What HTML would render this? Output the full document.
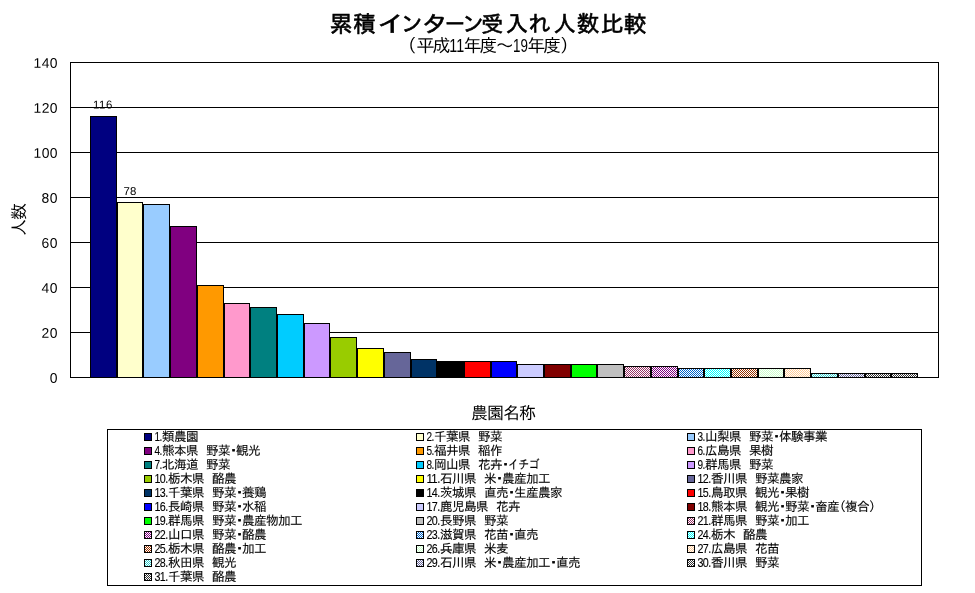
<!DOCTYPE html>
<html lang="ja"><head><meta charset="utf-8"><title>累積インターン受入れ人数比較</title>
<style>html,body{margin:0;padding:0;background:#fff;}body{width:975px;height:593px;overflow:hidden;}svg{display:block;}text{font-family:"Liberation Sans", "IPAGothic", sans-serif;fill:#000;}</style></head><body>
<svg width="975" height="593" viewBox="0 0 975 593">
<defs>
<pattern id="p0" width="2" height="2" patternUnits="userSpaceOnUse"><rect width="2" height="2" fill="#fff"/><rect x="0" y="0" width="1" height="1" fill="#993366"/><rect x="1" y="1" width="1" height="1" fill="#993366"/></pattern>
<pattern id="p1" width="2" height="2" patternUnits="userSpaceOnUse"><rect width="2" height="2" fill="#fff"/><rect x="0" y="0" width="1" height="1" fill="#800080"/><rect x="1" y="1" width="1" height="1" fill="#800080"/></pattern>
<pattern id="p2" width="2" height="2" patternUnits="userSpaceOnUse"><rect width="2" height="2" fill="#fff"/><rect x="0" y="0" width="1" height="1" fill="#0066CC"/><rect x="1" y="1" width="1" height="1" fill="#0066CC"/></pattern>
<pattern id="p3" width="2" height="2" patternUnits="userSpaceOnUse"><rect width="2" height="2" fill="#fff"/><rect x="0" y="0" width="1" height="1" fill="#00FFFF"/><rect x="1" y="1" width="1" height="1" fill="#00FFFF"/></pattern>
<pattern id="p4" width="2" height="2" patternUnits="userSpaceOnUse"><rect width="2" height="2" fill="#fff"/><rect x="0" y="0" width="1" height="1" fill="#993300"/><rect x="1" y="1" width="1" height="1" fill="#993300"/></pattern>
<pattern id="p5" width="2" height="2" patternUnits="userSpaceOnUse"><rect width="2" height="2" fill="#fff"/><rect x="0" y="0" width="1" height="1" fill="#CCFFCC"/><rect x="1" y="1" width="1" height="1" fill="#CCFFCC"/></pattern>
<pattern id="p6" width="2" height="2" patternUnits="userSpaceOnUse"><rect width="2" height="2" fill="#fff"/><rect x="0" y="0" width="1" height="1" fill="#FFCC99"/><rect x="1" y="1" width="1" height="1" fill="#FFCC99"/></pattern>
<pattern id="p7" width="2" height="2" patternUnits="userSpaceOnUse"><rect width="2" height="2" fill="#fff"/><rect x="0" y="0" width="1" height="1" fill="#33CCCC"/><rect x="1" y="1" width="1" height="1" fill="#33CCCC"/></pattern>
<pattern id="p8" width="2" height="2" patternUnits="userSpaceOnUse"><rect width="2" height="2" fill="#fff"/><rect x="0" y="0" width="1" height="1" fill="#666699"/><rect x="1" y="1" width="1" height="1" fill="#666699"/></pattern>
<pattern id="p9" width="2" height="2" patternUnits="userSpaceOnUse"><rect width="2" height="2" fill="#fff"/><rect x="0" y="0" width="1" height="1" fill="#333333"/><rect x="1" y="1" width="1" height="1" fill="#333333"/></pattern>
<pattern id="p10" width="2" height="2" patternUnits="userSpaceOnUse"><rect width="2" height="2" fill="#fff"/><rect x="0" y="0" width="1" height="1" fill="#333333"/><rect x="1" y="1" width="1" height="1" fill="#333333"/></pattern>
</defs>
<rect width="975" height="593" fill="#fff"/>
<text y="32.3" font-size="22.67" stroke="#000" stroke-width="0.6" text-anchor="middle"><tspan x="341.2">累</tspan><tspan x="364.7">積</tspan><tspan x="391.5" textLength="29.9" lengthAdjust="spacingAndGlyphs">イ</tspan><tspan x="411.8">ン</tspan><tspan x="435.0" textLength="28.3" lengthAdjust="spacingAndGlyphs">タ</tspan><tspan x="455.0" textLength="19.9" lengthAdjust="spacingAndGlyphs">ー</tspan><tspan x="473.2">ン</tspan><tspan x="492.2">受</tspan><tspan x="516.6">入</tspan><tspan x="539.7">れ</tspan><tspan x="564.5">人</tspan><tspan x="588.1">数</tspan><tspan x="612.0">比</tspan><tspan x="635.2">較</tspan></text>
<text x="398.6" y="52.0" font-size="18.0">（</text>
<text y="52.0" font-size="18.00" text-anchor="middle" x="425.4 441.6">平成</text>
<text x="449.3" y="52.0" font-size="17.6" textLength="14.9" lengthAdjust="spacingAndGlyphs">11</text>
<text y="52.0" font-size="18.00" text-anchor="middle" x="472.5 488.6 504.8">年度～</text>
<text x="513.0" y="52.0" font-size="17.6" textLength="14.9" lengthAdjust="spacingAndGlyphs">19</text>
<text y="52.0" font-size="18.00" text-anchor="middle" x="536.2 552.3">年度</text>
<text x="560.0" y="52.0" font-size="18.0">）</text>
<g shape-rendering="crispEdges" stroke="#000" stroke-width="1" fill="none">
<line x1="70" y1="62.5" x2="939" y2="62.5"/>
<line x1="70" y1="107.5" x2="939" y2="107.5"/>
<line x1="70" y1="152.5" x2="939" y2="152.5"/>
<line x1="70" y1="197.5" x2="939" y2="197.5"/>
<line x1="70" y1="242.5" x2="939" y2="242.5"/>
<line x1="70" y1="287.5" x2="939" y2="287.5"/>
<line x1="70" y1="332.5" x2="939" y2="332.5"/>
<line x1="70" y1="377.5" x2="939" y2="377.5"/>
<line x1="70.5" y1="62" x2="70.5" y2="378"/>
<line x1="938.5" y1="62" x2="938.5" y2="378"/>
</g>
<text x="57.6" y="67.80" transform="rotate(0.03 57.6 67.80)" font-size="13.9" text-anchor="end" textLength="24.0" lengthAdjust="spacing">140</text>
<text x="57.6" y="112.80" transform="rotate(0.03 57.6 112.80)" font-size="13.9" text-anchor="end" textLength="24.0" lengthAdjust="spacing">120</text>
<text x="57.6" y="157.80" transform="rotate(0.03 57.6 157.80)" font-size="13.9" text-anchor="end" textLength="24.0" lengthAdjust="spacing">100</text>
<text x="57.6" y="202.80" transform="rotate(0.03 57.6 202.80)" font-size="13.9" text-anchor="end" textLength="16.0" lengthAdjust="spacing">80</text>
<text x="57.6" y="247.80" transform="rotate(0.03 57.6 247.80)" font-size="13.9" text-anchor="end" textLength="16.0" lengthAdjust="spacing">60</text>
<text x="57.6" y="292.80" transform="rotate(0.03 57.6 292.80)" font-size="13.9" text-anchor="end" textLength="16.0" lengthAdjust="spacing">40</text>
<text x="57.6" y="337.80" transform="rotate(0.03 57.6 337.80)" font-size="13.9" text-anchor="end" textLength="16.0" lengthAdjust="spacing">20</text>
<text x="57.6" y="382.80" transform="rotate(0.03 57.6 382.80)" font-size="13.9" text-anchor="end" textLength="8.0" lengthAdjust="spacing">0</text>
<g shape-rendering="crispEdges" stroke="#000" stroke-width="1">
<rect x="90.5" y="116.5" width="26" height="261" fill="#000080"/>
<rect x="117.5" y="202.5" width="25" height="175" fill="#FFFFCC"/>
<rect x="143.5" y="204.5" width="26" height="173" fill="#99CCFF"/>
<rect x="170.5" y="226.5" width="26" height="151" fill="#800080"/>
<rect x="197.5" y="285.5" width="26" height="92" fill="#FF9900"/>
<rect x="224.5" y="303.5" width="25" height="74" fill="#FF99CC"/>
<rect x="250.5" y="307.5" width="26" height="70" fill="#008080"/>
<rect x="277.5" y="314.5" width="26" height="63" fill="#00CCFF"/>
<rect x="304.5" y="323.5" width="25" height="54" fill="#CC99FF"/>
<rect x="330.5" y="337.5" width="26" height="40" fill="#99CC00"/>
<rect x="357.5" y="348.5" width="26" height="29" fill="#FFFF00"/>
<rect x="384.5" y="352.5" width="26" height="25" fill="#666699"/>
<rect x="411.5" y="359.5" width="25" height="18" fill="#003366"/>
<rect x="437.5" y="361.5" width="26" height="16" fill="#000000"/>
<rect x="464.5" y="361.5" width="26" height="16" fill="#FF0000"/>
<rect x="491.5" y="361.5" width="25" height="16" fill="#0000FF"/>
<rect x="517.5" y="364.5" width="26" height="13" fill="#CCCCFF"/>
<rect x="544.5" y="364.5" width="26" height="13" fill="#800000"/>
<rect x="571.5" y="364.5" width="25" height="13" fill="#00FF00"/>
<rect x="597.5" y="364.5" width="26" height="13" fill="#C0C0C0"/>
<rect x="624.5" y="366.5" width="26" height="11" fill="url(#p0)"/>
<rect x="651.5" y="366.5" width="26" height="11" fill="url(#p1)"/>
<rect x="678.5" y="368.5" width="25" height="9" fill="url(#p2)"/>
<rect x="704.5" y="368.5" width="26" height="9" fill="url(#p3)"/>
<rect x="731.5" y="368.5" width="26" height="9" fill="url(#p4)"/>
<rect x="758.5" y="368.5" width="25" height="9" fill="url(#p5)"/>
<rect x="784.5" y="368.5" width="26" height="9" fill="url(#p6)"/>
<rect x="811.5" y="373.5" width="26" height="4" fill="url(#p7)"/>
<rect x="838.5" y="373.5" width="26" height="4" fill="url(#p8)"/>
<rect x="865.5" y="373.5" width="25" height="4" fill="url(#p9)"/>
<rect x="891.5" y="373.5" width="26" height="4" fill="url(#p10)"/>
</g>
<text x="102.6" y="108.4" transform="rotate(0.03 102.6 108.4)" font-size="11.4" text-anchor="middle" textLength="19.4" lengthAdjust="spacing">116</text>
<text x="129.9" y="195.1" transform="rotate(0.03 129.9 195.1)" font-size="11.4" text-anchor="middle" textLength="12.7" lengthAdjust="spacing">78</text>
<text y="419.4" font-size="17.00" text-anchor="middle" x="479.5 495.5 511.5 527.5">農園名称</text>
<text transform="translate(25.2,219.5) rotate(-90)" font-size="17" text-anchor="middle" x="-8 8" y="0">人数</text>
<rect x="107.5" y="429.5" width="814" height="156" fill="#fff" stroke="#000" stroke-width="1" shape-rendering="crispEdges"/>
<g font-size="12.6" letter-spacing="-0.6" stroke="#000" stroke-width="0.12">
<rect x="144.5" y="433.5" width="7" height="7" fill="#000080" stroke="#000" stroke-width="1" shape-rendering="crispEdges"/>
<text x="154.4" y="441.1" font-size="12.6" textLength="7.4" lengthAdjust="spacingAndGlyphs">1.</text>
<text x="162.0" y="441.2">類農園</text>
<rect x="416.5" y="433.5" width="7" height="7" fill="#FFFFCC" stroke="#000" stroke-width="1" shape-rendering="crispEdges"/>
<text x="426.4" y="441.1" font-size="12.6" textLength="7.4" lengthAdjust="spacingAndGlyphs">2.</text>
<text x="434.0" y="441.2">千葉県</text>
<text x="470.0" y="441.2" textLength="8" lengthAdjust="spacingAndGlyphs">　</text>
<text x="478.0" y="441.2">野菜</text>
<rect x="687.5" y="433.5" width="7" height="7" fill="#99CCFF" stroke="#000" stroke-width="1" shape-rendering="crispEdges"/>
<text x="697.4" y="441.1" font-size="12.6" textLength="7.4" lengthAdjust="spacingAndGlyphs">3.</text>
<text x="705.0" y="441.2">山梨県</text>
<text x="741.0" y="441.2" textLength="8" lengthAdjust="spacingAndGlyphs">　</text>
<text x="749.0" y="441.2">野菜</text>
<text x="776.3" y="441.2" text-anchor="middle" stroke="#000" stroke-width="0.9">・</text>
<text x="779.0" y="441.2">体験事業</text>
<rect x="144.5" y="447.5" width="7" height="7" fill="#800080" stroke="#000" stroke-width="1" shape-rendering="crispEdges"/>
<text x="154.4" y="455.1" font-size="12.6" textLength="7.4" lengthAdjust="spacingAndGlyphs">4.</text>
<text x="162.0" y="455.2">熊本県</text>
<text x="198.0" y="455.2" textLength="8" lengthAdjust="spacingAndGlyphs">　</text>
<text x="206.0" y="455.2">野菜</text>
<text x="233.3" y="455.2" text-anchor="middle" stroke="#000" stroke-width="0.9">・</text>
<text x="236.0" y="455.2">観光</text>
<rect x="416.5" y="447.5" width="7" height="7" fill="#FF9900" stroke="#000" stroke-width="1" shape-rendering="crispEdges"/>
<text x="426.4" y="455.1" font-size="12.6" textLength="7.4" lengthAdjust="spacingAndGlyphs">5.</text>
<text x="434.0" y="455.2">福井県</text>
<text x="470.0" y="455.2" textLength="8" lengthAdjust="spacingAndGlyphs">　</text>
<text x="478.0" y="455.2">稲作</text>
<rect x="687.5" y="447.5" width="7" height="7" fill="#FF99CC" stroke="#000" stroke-width="1" shape-rendering="crispEdges"/>
<text x="697.4" y="455.1" font-size="12.6" textLength="7.4" lengthAdjust="spacingAndGlyphs">6.</text>
<text x="705.0" y="455.2">広島県</text>
<text x="741.0" y="455.2" textLength="8" lengthAdjust="spacingAndGlyphs">　</text>
<text x="749.0" y="455.2">果樹</text>
<rect x="144.5" y="461.5" width="7" height="7" fill="#008080" stroke="#000" stroke-width="1" shape-rendering="crispEdges"/>
<text x="154.4" y="469.1" font-size="12.6" textLength="7.4" lengthAdjust="spacingAndGlyphs">7.</text>
<text x="162.0" y="469.2">北海道</text>
<text x="198.0" y="469.2" textLength="8" lengthAdjust="spacingAndGlyphs">　</text>
<text x="206.0" y="469.2">野菜</text>
<rect x="416.5" y="461.5" width="7" height="7" fill="#00CCFF" stroke="#000" stroke-width="1" shape-rendering="crispEdges"/>
<text x="426.4" y="469.1" font-size="12.6" textLength="7.4" lengthAdjust="spacingAndGlyphs">8.</text>
<text x="434.0" y="469.2">岡山県</text>
<text x="470.0" y="469.2" textLength="8" lengthAdjust="spacingAndGlyphs">　</text>
<text x="478.0" y="469.2">花卉</text>
<text x="505.3" y="469.2" text-anchor="middle" stroke="#000" stroke-width="0.9">・</text>
<text x="508.0" y="469.2" textLength="31.0" lengthAdjust="spacingAndGlyphs">イチゴ</text>
<rect x="687.5" y="461.5" width="7" height="7" fill="#CC99FF" stroke="#000" stroke-width="1" shape-rendering="crispEdges"/>
<text x="697.4" y="469.1" font-size="12.6" textLength="7.4" lengthAdjust="spacingAndGlyphs">9.</text>
<text x="705.0" y="469.2">群馬県</text>
<text x="741.0" y="469.2" textLength="8" lengthAdjust="spacingAndGlyphs">　</text>
<text x="749.0" y="469.2">野菜</text>
<rect x="144.5" y="475.5" width="7" height="7" fill="#99CC00" stroke="#000" stroke-width="1" shape-rendering="crispEdges"/>
<text x="154.4" y="483.1" font-size="12.6" textLength="13.4" lengthAdjust="spacingAndGlyphs">10.</text>
<text x="168.0" y="483.2">栃木県</text>
<text x="204.0" y="483.2" textLength="8" lengthAdjust="spacingAndGlyphs">　</text>
<text x="212.0" y="483.2">酪農</text>
<rect x="416.5" y="475.5" width="7" height="7" fill="#FFFF00" stroke="#000" stroke-width="1" shape-rendering="crispEdges"/>
<text x="426.4" y="483.1" font-size="12.6" textLength="13.4" lengthAdjust="spacingAndGlyphs">11.</text>
<text x="440.0" y="483.2">石川県</text>
<text x="476.0" y="483.2" textLength="8" lengthAdjust="spacingAndGlyphs">　</text>
<text x="484.0" y="483.2">米</text>
<text x="499.3" y="483.2" text-anchor="middle" stroke="#000" stroke-width="0.9">・</text>
<text x="502.0" y="483.2">農産加工</text>
<rect x="687.5" y="475.5" width="7" height="7" fill="#666699" stroke="#000" stroke-width="1" shape-rendering="crispEdges"/>
<text x="697.4" y="483.1" font-size="12.6" textLength="13.4" lengthAdjust="spacingAndGlyphs">12.</text>
<text x="711.0" y="483.2">香川県</text>
<text x="747.0" y="483.2" textLength="8" lengthAdjust="spacingAndGlyphs">　</text>
<text x="755.0" y="483.2">野菜農家</text>
<rect x="144.5" y="489.5" width="7" height="7" fill="#003366" stroke="#000" stroke-width="1" shape-rendering="crispEdges"/>
<text x="154.4" y="497.1" font-size="12.6" textLength="13.4" lengthAdjust="spacingAndGlyphs">13.</text>
<text x="168.0" y="497.2">千葉県</text>
<text x="204.0" y="497.2" textLength="8" lengthAdjust="spacingAndGlyphs">　</text>
<text x="212.0" y="497.2">野菜</text>
<text x="239.3" y="497.2" text-anchor="middle" stroke="#000" stroke-width="0.9">・</text>
<text x="242.0" y="497.2">養鶏</text>
<rect x="416.5" y="489.5" width="7" height="7" fill="#000000" stroke="#000" stroke-width="1" shape-rendering="crispEdges"/>
<text x="426.4" y="497.1" font-size="12.6" textLength="13.4" lengthAdjust="spacingAndGlyphs">14.</text>
<text x="440.0" y="497.2">茨城県</text>
<text x="476.0" y="497.2" textLength="8" lengthAdjust="spacingAndGlyphs">　</text>
<text x="484.0" y="497.2">直売</text>
<text x="511.3" y="497.2" text-anchor="middle" stroke="#000" stroke-width="0.9">・</text>
<text x="514.0" y="497.2">生産農家</text>
<rect x="687.5" y="489.5" width="7" height="7" fill="#FF0000" stroke="#000" stroke-width="1" shape-rendering="crispEdges"/>
<text x="697.4" y="497.1" font-size="12.6" textLength="13.4" lengthAdjust="spacingAndGlyphs">15.</text>
<text x="711.0" y="497.2">鳥取県</text>
<text x="747.0" y="497.2" textLength="8" lengthAdjust="spacingAndGlyphs">　</text>
<text x="755.0" y="497.2">観光</text>
<text x="782.3" y="497.2" text-anchor="middle" stroke="#000" stroke-width="0.9">・</text>
<text x="785.0" y="497.2">果樹</text>
<rect x="144.5" y="503.5" width="7" height="7" fill="#0000FF" stroke="#000" stroke-width="1" shape-rendering="crispEdges"/>
<text x="154.4" y="511.1" font-size="12.6" textLength="13.4" lengthAdjust="spacingAndGlyphs">16.</text>
<text x="168.0" y="511.2">長崎県</text>
<text x="204.0" y="511.2" textLength="8" lengthAdjust="spacingAndGlyphs">　</text>
<text x="212.0" y="511.2">野菜</text>
<text x="239.3" y="511.2" text-anchor="middle" stroke="#000" stroke-width="0.9">・</text>
<text x="242.0" y="511.2">水稲</text>
<rect x="416.5" y="503.5" width="7" height="7" fill="#CCCCFF" stroke="#000" stroke-width="1" shape-rendering="crispEdges"/>
<text x="426.4" y="511.1" font-size="12.6" textLength="13.4" lengthAdjust="spacingAndGlyphs">17.</text>
<text x="440.0" y="511.2">鹿児島県</text>
<text x="488.0" y="511.2" textLength="8" lengthAdjust="spacingAndGlyphs">　</text>
<text x="496.0" y="511.2">花卉</text>
<rect x="687.5" y="503.5" width="7" height="7" fill="#800000" stroke="#000" stroke-width="1" shape-rendering="crispEdges"/>
<text x="697.4" y="511.1" font-size="12.6" textLength="13.4" lengthAdjust="spacingAndGlyphs">18.</text>
<text x="711.0" y="511.2">熊本県</text>
<text x="747.0" y="511.2" textLength="8" lengthAdjust="spacingAndGlyphs">　</text>
<text x="755.0" y="511.2">観光</text>
<text x="782.3" y="511.2" text-anchor="middle" stroke="#000" stroke-width="0.9">・</text>
<text x="785.0" y="511.2">野菜</text>
<text x="812.3" y="511.2" text-anchor="middle" stroke="#000" stroke-width="0.9">・</text>
<text x="815.0" y="511.2">畜産</text>
<text x="833.3" y="511.2">（</text>
<text x="845.0" y="511.2">複合</text>
<text x="869.0" y="511.2">）</text>
<rect x="144.5" y="517.5" width="7" height="7" fill="#00FF00" stroke="#000" stroke-width="1" shape-rendering="crispEdges"/>
<text x="154.4" y="525.0" font-size="12.6" textLength="13.4" lengthAdjust="spacingAndGlyphs">19.</text>
<text x="168.0" y="525.2">群馬県</text>
<text x="204.0" y="525.2" textLength="8" lengthAdjust="spacingAndGlyphs">　</text>
<text x="212.0" y="525.2">野菜</text>
<text x="239.3" y="525.2" text-anchor="middle" stroke="#000" stroke-width="0.9">・</text>
<text x="242.0" y="525.2">農産物加工</text>
<rect x="416.5" y="517.5" width="7" height="7" fill="#C0C0C0" stroke="#000" stroke-width="1" shape-rendering="crispEdges"/>
<text x="426.4" y="525.0" font-size="12.6" textLength="13.4" lengthAdjust="spacingAndGlyphs">20.</text>
<text x="440.0" y="525.2">長野県</text>
<text x="476.0" y="525.2" textLength="8" lengthAdjust="spacingAndGlyphs">　</text>
<text x="484.0" y="525.2">野菜</text>
<rect x="687.5" y="517.5" width="7" height="7" fill="url(#p0)" stroke="#000" stroke-width="1" shape-rendering="crispEdges"/>
<text x="697.4" y="525.0" font-size="12.6" textLength="13.4" lengthAdjust="spacingAndGlyphs">21.</text>
<text x="711.0" y="525.2">群馬県</text>
<text x="747.0" y="525.2" textLength="8" lengthAdjust="spacingAndGlyphs">　</text>
<text x="755.0" y="525.2">野菜</text>
<text x="782.3" y="525.2" text-anchor="middle" stroke="#000" stroke-width="0.9">・</text>
<text x="785.0" y="525.2">加工</text>
<rect x="144.5" y="531.5" width="7" height="7" fill="url(#p1)" stroke="#000" stroke-width="1" shape-rendering="crispEdges"/>
<text x="154.4" y="539.0" font-size="12.6" textLength="13.4" lengthAdjust="spacingAndGlyphs">22.</text>
<text x="168.0" y="539.2">山口県</text>
<text x="204.0" y="539.2" textLength="8" lengthAdjust="spacingAndGlyphs">　</text>
<text x="212.0" y="539.2">野菜</text>
<text x="239.3" y="539.2" text-anchor="middle" stroke="#000" stroke-width="0.9">・</text>
<text x="242.0" y="539.2">酪農</text>
<rect x="416.5" y="531.5" width="7" height="7" fill="url(#p2)" stroke="#000" stroke-width="1" shape-rendering="crispEdges"/>
<text x="426.4" y="539.0" font-size="12.6" textLength="13.4" lengthAdjust="spacingAndGlyphs">23.</text>
<text x="440.0" y="539.2">滋賀県</text>
<text x="476.0" y="539.2" textLength="8" lengthAdjust="spacingAndGlyphs">　</text>
<text x="484.0" y="539.2">花苗</text>
<text x="511.3" y="539.2" text-anchor="middle" stroke="#000" stroke-width="0.9">・</text>
<text x="514.0" y="539.2">直売</text>
<rect x="687.5" y="531.5" width="7" height="7" fill="url(#p3)" stroke="#000" stroke-width="1" shape-rendering="crispEdges"/>
<text x="697.4" y="539.0" font-size="12.6" textLength="13.4" lengthAdjust="spacingAndGlyphs">24.</text>
<text x="711.0" y="539.2">栃木</text>
<text x="735.0" y="539.2" textLength="8" lengthAdjust="spacingAndGlyphs">　</text>
<text x="743.0" y="539.2">酪農</text>
<rect x="144.5" y="545.5" width="7" height="7" fill="url(#p4)" stroke="#000" stroke-width="1" shape-rendering="crispEdges"/>
<text x="154.4" y="553.0" font-size="12.6" textLength="13.4" lengthAdjust="spacingAndGlyphs">25.</text>
<text x="168.0" y="553.2">栃木県</text>
<text x="204.0" y="553.2" textLength="8" lengthAdjust="spacingAndGlyphs">　</text>
<text x="212.0" y="553.2">酪農</text>
<text x="239.3" y="553.2" text-anchor="middle" stroke="#000" stroke-width="0.9">・</text>
<text x="242.0" y="553.2">加工</text>
<rect x="416.5" y="545.5" width="7" height="7" fill="url(#p5)" stroke="#000" stroke-width="1" shape-rendering="crispEdges"/>
<text x="426.4" y="553.0" font-size="12.6" textLength="13.4" lengthAdjust="spacingAndGlyphs">26.</text>
<text x="440.0" y="553.2">兵庫県</text>
<text x="476.0" y="553.2" textLength="8" lengthAdjust="spacingAndGlyphs">　</text>
<text x="484.0" y="553.2">米麦</text>
<rect x="687.5" y="545.5" width="7" height="7" fill="url(#p6)" stroke="#000" stroke-width="1" shape-rendering="crispEdges"/>
<text x="697.4" y="553.0" font-size="12.6" textLength="13.4" lengthAdjust="spacingAndGlyphs">27.</text>
<text x="711.0" y="553.2">広島県</text>
<text x="747.0" y="553.2" textLength="8" lengthAdjust="spacingAndGlyphs">　</text>
<text x="755.0" y="553.2">花苗</text>
<rect x="144.5" y="559.5" width="7" height="7" fill="url(#p7)" stroke="#000" stroke-width="1" shape-rendering="crispEdges"/>
<text x="154.4" y="567.0" font-size="12.6" textLength="13.4" lengthAdjust="spacingAndGlyphs">28.</text>
<text x="168.0" y="567.2">秋田県</text>
<text x="204.0" y="567.2" textLength="8" lengthAdjust="spacingAndGlyphs">　</text>
<text x="212.0" y="567.2">観光</text>
<rect x="416.5" y="559.5" width="7" height="7" fill="url(#p8)" stroke="#000" stroke-width="1" shape-rendering="crispEdges"/>
<text x="426.4" y="567.0" font-size="12.6" textLength="13.4" lengthAdjust="spacingAndGlyphs">29.</text>
<text x="440.0" y="567.2">石川県</text>
<text x="476.0" y="567.2" textLength="8" lengthAdjust="spacingAndGlyphs">　</text>
<text x="484.0" y="567.2">米</text>
<text x="499.3" y="567.2" text-anchor="middle" stroke="#000" stroke-width="0.9">・</text>
<text x="502.0" y="567.2">農産加工</text>
<text x="553.3" y="567.2" text-anchor="middle" stroke="#000" stroke-width="0.9">・</text>
<text x="556.0" y="567.2">直売</text>
<rect x="687.5" y="559.5" width="7" height="7" fill="url(#p9)" stroke="#000" stroke-width="1" shape-rendering="crispEdges"/>
<text x="697.4" y="567.0" font-size="12.6" textLength="13.4" lengthAdjust="spacingAndGlyphs">30.</text>
<text x="711.0" y="567.2">香川県</text>
<text x="747.0" y="567.2" textLength="8" lengthAdjust="spacingAndGlyphs">　</text>
<text x="755.0" y="567.2">野菜</text>
<rect x="144.5" y="573.5" width="7" height="7" fill="url(#p10)" stroke="#000" stroke-width="1" shape-rendering="crispEdges"/>
<text x="154.4" y="581.0" font-size="12.6" textLength="13.4" lengthAdjust="spacingAndGlyphs">31.</text>
<text x="168.0" y="581.2">千葉県</text>
<text x="204.0" y="581.2" textLength="8" lengthAdjust="spacingAndGlyphs">　</text>
<text x="212.0" y="581.2">酪農</text>
</g>
</svg></body></html>
